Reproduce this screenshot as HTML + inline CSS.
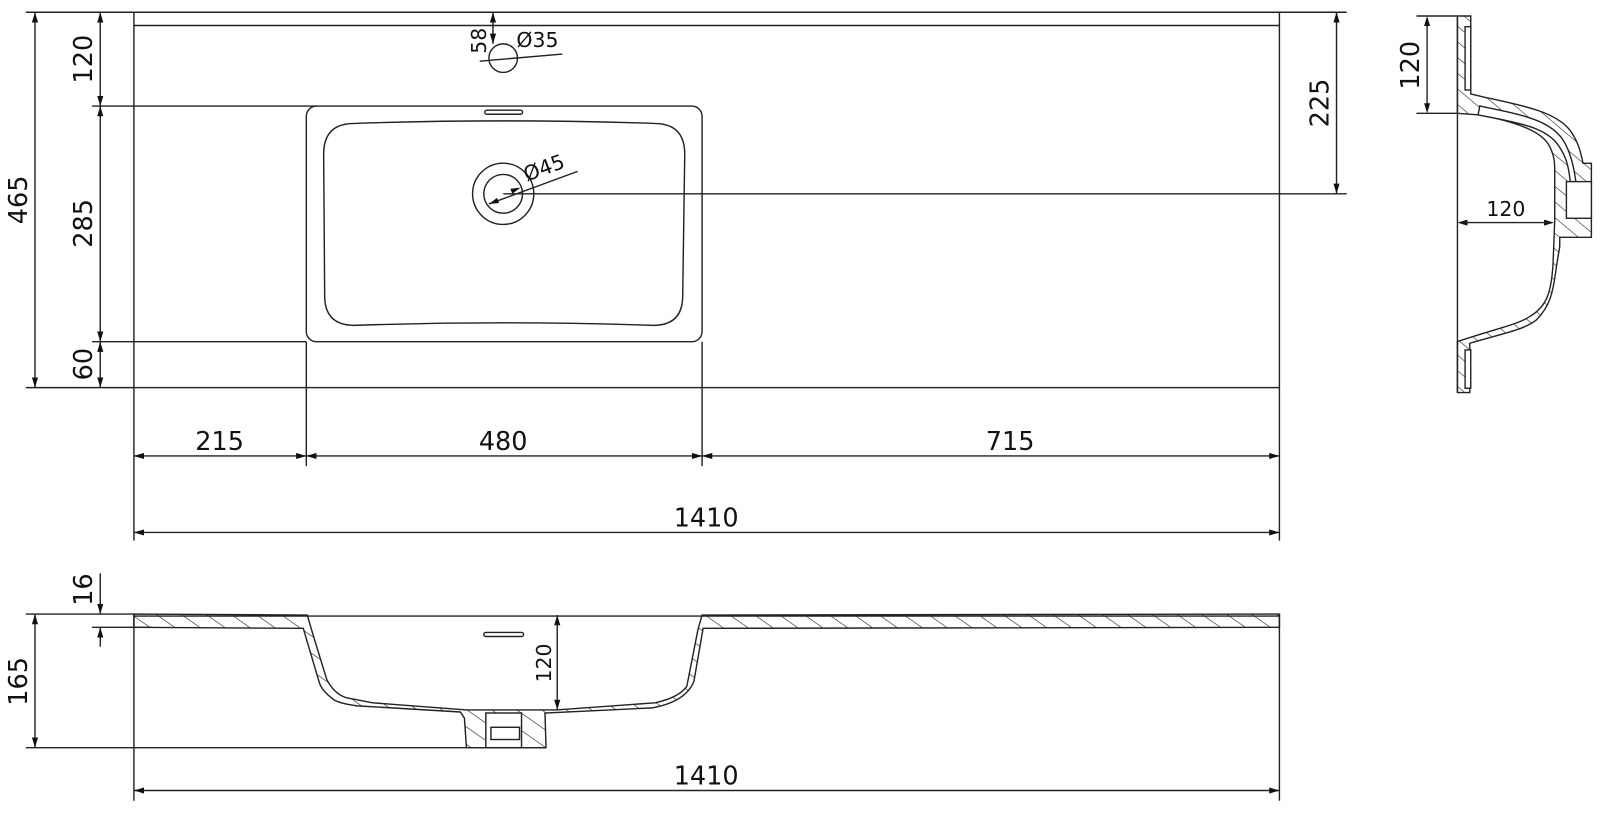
<!DOCTYPE html>
<html><head><meta charset="utf-8"><style>
html,body{margin:0;padding:0;background:#fff;}
svg{display:block;}
text{font-family:"DejaVu Sans","Liberation Sans",sans-serif;fill:#111;}
</style></head><body>
<svg width="1600" height="815" viewBox="0 0 1568 799" xmlns="http://www.w3.org/2000/svg">
<defs>
<marker id="a" viewBox="0 0 10 6" refX="10" refY="3" markerWidth="10" markerHeight="6" markerUnits="userSpaceOnUse" orient="auto-start-reverse"><path d="M0,0 L10,3 L0,6 Z" fill="#111"/></marker>
<pattern id="h" width="14" height="14" patternUnits="userSpaceOnUse" patternTransform="rotate(-55)"><line x1="0" y1="0" x2="0" y2="14" stroke="#222" stroke-width="1.2"/></pattern>
<pattern id="h2" width="36" height="36" patternUnits="userSpaceOnUse" patternTransform="rotate(-50)"><line x1="0" y1="0" x2="0" y2="36" stroke="#222" stroke-width="3.5"/></pattern>
</defs>
<g fill="none" stroke="#222" stroke-width="1.4">
<!-- TOP VIEW -->
<line x1="98" y1="12" x2="1320" y2="12"/>
<line x1="25" y1="12" x2="131" y2="12"/>
<rect x="131" y="12" width="1123" height="368"/>
<line x1="131" y1="25" x2="1254" y2="25"/>
<line x1="25" y1="380" x2="131" y2="380"/>
<line x1="90" y1="104" x2="310" y2="104"/>
<line x1="90" y1="335" x2="300" y2="335"/>
<rect x="300" y="104" width="388" height="231" rx="10"/>
<path d="M347,121 Q493,116 641,121 Q671,121 671,151 L669,290 Q669,319 640,319 Q493,314 347,319 Q318,319 318,290 L317,151 Q317,121 347,121 Z"/>
<rect x="475" y="108" width="37" height="4" rx="2"/>
<circle cx="493" cy="190" r="30"/>
<circle cx="493" cy="190" r="19"/>
<line x1="493" y1="190" x2="1320" y2="190"/>
<circle cx="493" cy="57" r="14"/>
<!-- top dims -->
<line x1="34" y1="12" x2="34" y2="380" marker-start="url(#a)" marker-end="url(#a)"/>
<line x1="98" y1="12" x2="98" y2="104" marker-start="url(#a)" marker-end="url(#a)"/>
<line x1="98" y1="104" x2="98" y2="335" marker-start="url(#a)" marker-end="url(#a)"/>
<line x1="98" y1="335" x2="98" y2="380" marker-start="url(#a)" marker-end="url(#a)"/>
<line x1="1310" y1="12" x2="1310" y2="190" marker-start="url(#a)" marker-end="url(#a)"/>
<line x1="483" y1="12" x2="483" y2="43" marker-start="url(#a)" marker-end="url(#a)"/>
<line x1="470" y1="60" x2="551" y2="53"/>
<line x1="479" y1="200" x2="566" y2="168"/>
<path d="M479,200 l10,-1 l-2,-5 Z M510,184 l-10,1 l2,5 Z" fill="#111" stroke="none"/>
<line x1="131" y1="380" x2="131" y2="530"/>
<line x1="1254" y1="380" x2="1254" y2="530"/>
<line x1="300" y1="335" x2="300" y2="457"/>
<line x1="688" y1="335" x2="688" y2="457"/>
<line x1="131" y1="447" x2="300" y2="447" marker-start="url(#a)" marker-end="url(#a)"/>
<line x1="300" y1="447" x2="688" y2="447" marker-start="url(#a)" marker-end="url(#a)"/>
<line x1="688" y1="447" x2="1254" y2="447" marker-start="url(#a)" marker-end="url(#a)"/>
<line x1="131" y1="522" x2="1254" y2="522" marker-start="url(#a)" marker-end="url(#a)"/>

<!-- FRONT SECTION -->
<path d="M131,602 L301,603 L305,617 L320,666 Q327,680 339,684 L365,689 L457,696 L545,696 L642,689 Q665,684 673,673 L684,617 L688,603 L1254,602 L1254,615 L689,616 L680,668 Q672,688 639,694 L534,699 L535,733 L457,733 L455,704 L451,698 L350,692 Q334,690 327,686 Q316,678 313,670 L297,616 L131,615 Z" fill="url(#h)"/>
<line x1="131" y1="604" x2="1254" y2="604"/>
<rect x="476" y="699" width="35" height="34" fill="#fff"/>
<rect x="481" y="713" width="28" height="12" fill="#fff"/>
<rect x="474" y="620" width="39" height="4" rx="2"/>
<line x1="25" y1="602" x2="131" y2="602"/>
<line x1="90" y1="615" x2="148" y2="615"/>
<line x1="25" y1="733" x2="535" y2="733"/>
<line x1="131" y1="602" x2="131" y2="785"/>
<line x1="1254" y1="602" x2="1254" y2="785"/>
<line x1="34" y1="602" x2="34" y2="733" marker-start="url(#a)" marker-end="url(#a)"/>
<line x1="98" y1="562" x2="98" y2="602" marker-end="url(#a)"/>
<line x1="98" y1="634" x2="98" y2="615" marker-end="url(#a)"/>
<line x1="546" y1="603" x2="546" y2="696" marker-start="url(#a)" marker-end="url(#a)"/>
<line x1="131" y1="775" x2="1254" y2="775" marker-start="url(#a)" marker-end="url(#a)"/>
</g>

<!-- SIDE PROFILE (zoom-local coords) -->
<g transform="translate(1342.6,0) scale(0.3267)" fill="none" stroke="#222" stroke-width="4.2">
<path d="M263,48 H303 V282 L345,292 C480,320 560,340 600,390 C630,430 635,470 640,490 H665 V712 H570 V740 L560,800 C550,880 540,920 500,960 C460,990 420,995 300,1030 V1178 H263 V1025 C400,980 440,975 480,950 C530,920 545,880 550,790 L555,660 V520 C555,490 555,470 540,440 C520,400 460,370 330,345 L263,340 Z" fill="url(#h2)"/>
<rect x="286" y="80" width="17" height="190" fill="#fff"/>
<rect x="286" y="1050" width="17" height="115" fill="#fff"/>
<path d="M330,318 C460,345 540,360 580,420 C605,460 615,510 620,560 L603,560 C598,500 590,470 565,435 C530,385 460,370 325,345 Z" fill="#fff"/>
<rect x="590" y="545" width="75" height="110" fill="#fff"/>
<line x1="263" y1="48" x2="263" y2="1178"/>
<line x1="140" y1="48" x2="263" y2="48"/>
<line x1="140" y1="340" x2="263" y2="340"/>
<line x1="172" y1="60" x2="172" y2="328"/>
<path d="M172,48 l-9,30 h18 Z M172,340 l-9,-30 h18 Z M263,668 l30,-9 v18 Z M553,668 l-30,-9 v18 Z" fill="#111" stroke="none"/>
<line x1="270" y1="668" x2="546" y2="668"/>
</g>

<!-- TEXT -->
<g font-size="25">
<text x="215" y="441" text-anchor="middle">215</text>
<text x="493" y="441" text-anchor="middle">480</text>
<text x="990" y="441" text-anchor="middle">715</text>
<text x="692" y="516" text-anchor="middle">1410</text>
<text x="692" y="769" text-anchor="middle">1410</text>
<text transform="translate(26,196) rotate(-90)" text-anchor="middle">465</text>
<text transform="translate(90,58) rotate(-90)" text-anchor="middle">120</text>
<text transform="translate(90,219) rotate(-90)" text-anchor="middle">285</text>
<text transform="translate(90,357) rotate(-90)" text-anchor="middle">60</text>
<text transform="translate(1302,101) rotate(-90)" text-anchor="middle">225</text>
<text transform="translate(26,668) rotate(-90)" text-anchor="middle">165</text>
<text transform="translate(90,578) rotate(-90)" text-anchor="middle">16</text>
<text transform="translate(1391,64) rotate(-90)" text-anchor="middle">120</text>
</g>
<g font-size="20">
<text transform="translate(476,40) rotate(-90)" text-anchor="middle">58</text>
<text x="506" y="46">Ø35</text>
<text transform="translate(516,178) rotate(-20)">Ø45</text>
<text transform="translate(540,650) rotate(-90)" text-anchor="middle">120</text>
<text x="1476" y="212" text-anchor="middle">120</text>
</g>
</svg>
</body></html>
